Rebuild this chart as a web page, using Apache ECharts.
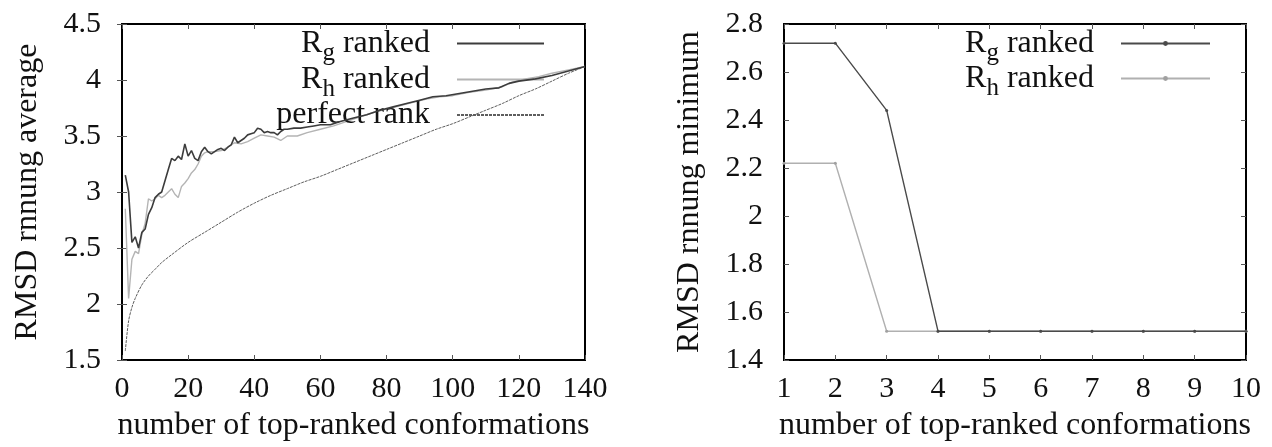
<!DOCTYPE html>
<html>
<head>
<meta charset="utf-8">
<script src="https://cdn.jsdelivr.net/npm/echarts@6/dist/echarts.min.js"></script>
<style>
html,body{margin:0;padding:0;background:#fff;}
#c{width:1272px;height:447px;}
</style>
</head>
<body>
<div id="c"></div>
<script>
// ---- Left chart data (RMSD running average) ----
const rgX = [1,2,3,4,5,6,7,8,9,10,11,12,13,14,15,16,17,18,19,20,21,22,23,24,25,26,27,28,29,30,31,32,33,34,35,36,37,38,39,40,41,42,43,44,45,46,47,48,49,50,52,54,56,58,60,63,66,70,74,78,82,86,90,94,98,102,106,110,114,117,120,125,130,135,140];
const rgY = [3.15,3.0,2.55,2.6,2.5,2.64,2.67,2.8,2.86,2.95,2.98,3.0,3.1,3.2,3.3,3.28,3.32,3.29,3.43,3.32,3.37,3.3,3.28,3.36,3.4,3.36,3.34,3.36,3.38,3.39,3.37,3.4,3.42,3.49,3.44,3.46,3.48,3.51,3.52,3.53,3.57,3.56,3.53,3.54,3.53,3.53,3.51,3.54,3.56,3.56,3.57,3.57,3.58,3.59,3.6,3.6,3.63,3.66,3.69,3.73,3.76,3.79,3.82,3.85,3.86,3.88,3.9,3.92,3.93,3.97,3.99,4.01,4.04,4.08,4.12];
const rhX = [1,2,3,4,5,6,7,8,9,10,11,12,13,14,15,16,17,18,19,20,21,22,23,24,25,26,28,30,32,34,36,38,40,42,44,46,48,50,53,56,60,64,68,72,76,80,84,88,92,96,100,105,110,115,118,122,126,130,135,140];
const rhY = [2.85,2.05,2.4,2.47,2.45,2.62,2.72,2.94,2.92,2.94,2.97,2.95,2.97,3.0,3.03,2.98,2.95,3.05,3.08,3.12,3.17,3.2,3.25,3.32,3.35,3.36,3.36,3.37,3.4,3.44,3.43,3.45,3.48,3.51,3.5,3.49,3.46,3.5,3.5,3.53,3.56,3.59,3.63,3.67,3.71,3.74,3.77,3.8,3.83,3.85,3.86,3.89,3.91,3.94,3.98,4.01,4.03,4.06,4.09,4.12];
const pfX = [1,2,3,4,6,8,10,12,15,20,25,30,35,40,45,50,55,60,65,70,75,80,85,90,95,100,105,110,115,120,125,130,135,140];
const pfY = [1.58,1.85,1.97,2.05,2.17,2.25,2.31,2.37,2.44,2.55,2.64,2.73,2.82,2.9,2.97,3.03,3.09,3.14,3.2,3.26,3.32,3.38,3.44,3.5,3.56,3.61,3.67,3.73,3.79,3.86,3.92,3.99,4.06,4.12];

// ---- Right chart data (RMSD running minimum) ----
const topN = [1,2,3,4,5,6,7,8,9,10];
const rgMin = [2.72,2.72,2.44,1.52,1.52,1.52,1.52,1.52,1.52,1.52];
const rhMin = [2.22,2.22,1.52,1.52,1.52,1.52,1.52,1.52,1.52,1.52];

const leftYTicks = {min:1.5, max:4.5, interval:0.5};
const leftXTicks = {min:0, max:140, interval:20};
const rightYTicks = {min:1.4, max:2.8, interval:0.2};
const rightXTicks = {min:1, max:10, interval:1};

const xLabel = 'number of top-ranked conformations';
const yLabelLeft = 'RMSD rnnung average';
const yLabelRight = 'RMSD rnnung minimum';

function pairs(xs, ys){ return xs.map((x,i)=>[x, ys[i]]); }

const FONT = 'Liberation Serif';
const tickFont = {fontFamily: FONT, fontSize: 30, color: '#111'};
const nameFont = {fontFamily: FONT, fontSize: 32, color: '#111'};

function xAx(grid, t, pos, withName){
  return {
    type:'value', gridIndex:grid, position:pos, min:t.min, max:t.max, interval:t.interval,
    name: withName ? xLabel : '', nameLocation:'middle', nameGap:50, nameTextStyle:nameFont,
    axisLine:{show:true, lineStyle:{color:'#000', width:2}},
    axisTick:{show:true, inside:true, length:5, lineStyle:{color:'#555'}},
    axisLabel:{show: withName, margin:14, ...tickFont},
    splitLine:{show:false}
  };
}
function yAx(grid, t, pos, name){
  return {
    type:'value', gridIndex:grid, position:pos, min:t.min, max:t.max, interval:t.interval,
    name: name || '', nameLocation:'middle', nameGap:78, nameRotate:90, nameTextStyle:nameFont,
    axisLine:{show:true, lineStyle:{color:'#000', width:2}},
    axisTick:{show:true, inside:true, length:5, lineStyle:{color:'#555'}},
    axisLabel:{show: !!name, margin:21, ...tickFont},
    splitLine:{show:false}
  };
}

const richStyle = {
  m:{fontFamily:FONT, fontSize:32, lineHeight:44, color:'#111'},
  sub:{fontFamily:FONT, fontSize:25, lineHeight:24, padding:[20,0,0,0], color:'#111'},
  sp:{width:22, fontSize:32, lineHeight:44}
};
function legendFmt(name){
  if (name === 'Rg ranked') return '{m|R}{sub|g}{m| ranked}{sp| }';
  if (name === 'Rh ranked') return '{m|R}{sub|h}{m| ranked}{sp| }';
  return '{m|' + name + '}{sp| }';
}

const chart = echarts.init(document.getElementById('c'), null, {renderer:'canvas'});
chart.setOption({
  backgroundColor:'#fff',
  animation:false,
  grid:[
    {left:122, top:24, width:463, height:338, show:true, borderColor:'#000', borderWidth:2},
    {left:784, top:24, width:462, height:338, show:true, borderColor:'#000', borderWidth:2}
  ],
  xAxis:[
    xAx(0, leftXTicks, 'bottom', true),
    xAx(0, leftXTicks, 'top', false),
    xAx(1, rightXTicks, 'bottom', true),
    xAx(1, rightXTicks, 'top', false)
  ],
  yAxis:[
    yAx(0, leftYTicks, 'left', yLabelLeft),
    yAx(0, leftYTicks, 'right', ''),
    yAx(1, rightYTicks, 'left', yLabelRight),
    yAx(1, rightYTicks, 'right', '')
  ],
  legend:[
    {
      data:['Rg ranked','Rh ranked','perfect rank'],
      orient:'vertical', right:727, top:21, align:'right', padding:0,
      itemWidth:87, itemHeight:10, itemGap:-9,
      itemStyle:{opacity:0},
      formatter:legendFmt,
      textStyle:{rich:richStyle, fontFamily:FONT, fontSize:32, lineHeight:44},
      selectedMode:false
    },
    {
      data:['Rg ranked ','Rh ranked '],
      orient:'vertical', right:61, top:21, align:'right', padding:0,
      itemWidth:89, itemHeight:6, itemGap:-10,
      formatter:function(n){ return legendFmt(n.trim()); },
      textStyle:{rich:richStyle, fontFamily:FONT, fontSize:32, lineHeight:44},
      selectedMode:false
    }
  ],
  series:[
    {name:'Rg ranked', type:'line', xAxisIndex:0, yAxisIndex:0, data:pairs(rgX, rgY), symbol:'none',
      lineStyle:{color:'#3c3c3c', width:1.6}, itemStyle:{color:'#3c3c3c'}, z:4},
    {name:'Rh ranked', type:'line', xAxisIndex:0, yAxisIndex:0, data:pairs(rhX, rhY), symbol:'none',
      lineStyle:{color:'#b4b4b4', width:1.4}, itemStyle:{color:'#b4b4b4'}, z:3},
    {name:'perfect rank', type:'line', xAxisIndex:0, yAxisIndex:0, data:pairs(pfX, pfY), symbol:'none', smooth:0.3,
      lineStyle:{color:'#5e5e5e', width:1, type:[3,1]}, itemStyle:{color:'#5e5e5e'}, z:2},
    {name:'Rg ranked ', type:'line', xAxisIndex:2, yAxisIndex:2, data:pairs(topN, rgMin), symbol:'circle', symbolSize:3,
      lineStyle:{color:'#4a4a4a', width:1.4}, itemStyle:{color:'#4a4a4a'}, z:4},
    {name:'Rh ranked ', type:'line', xAxisIndex:2, yAxisIndex:2, data:pairs(topN, rhMin), symbol:'circle', symbolSize:3,
      lineStyle:{color:'#b0b0b0', width:1.4}, itemStyle:{color:'#a0a0a0'}, z:3}
  ]
});
</script>
</body>
</html>
